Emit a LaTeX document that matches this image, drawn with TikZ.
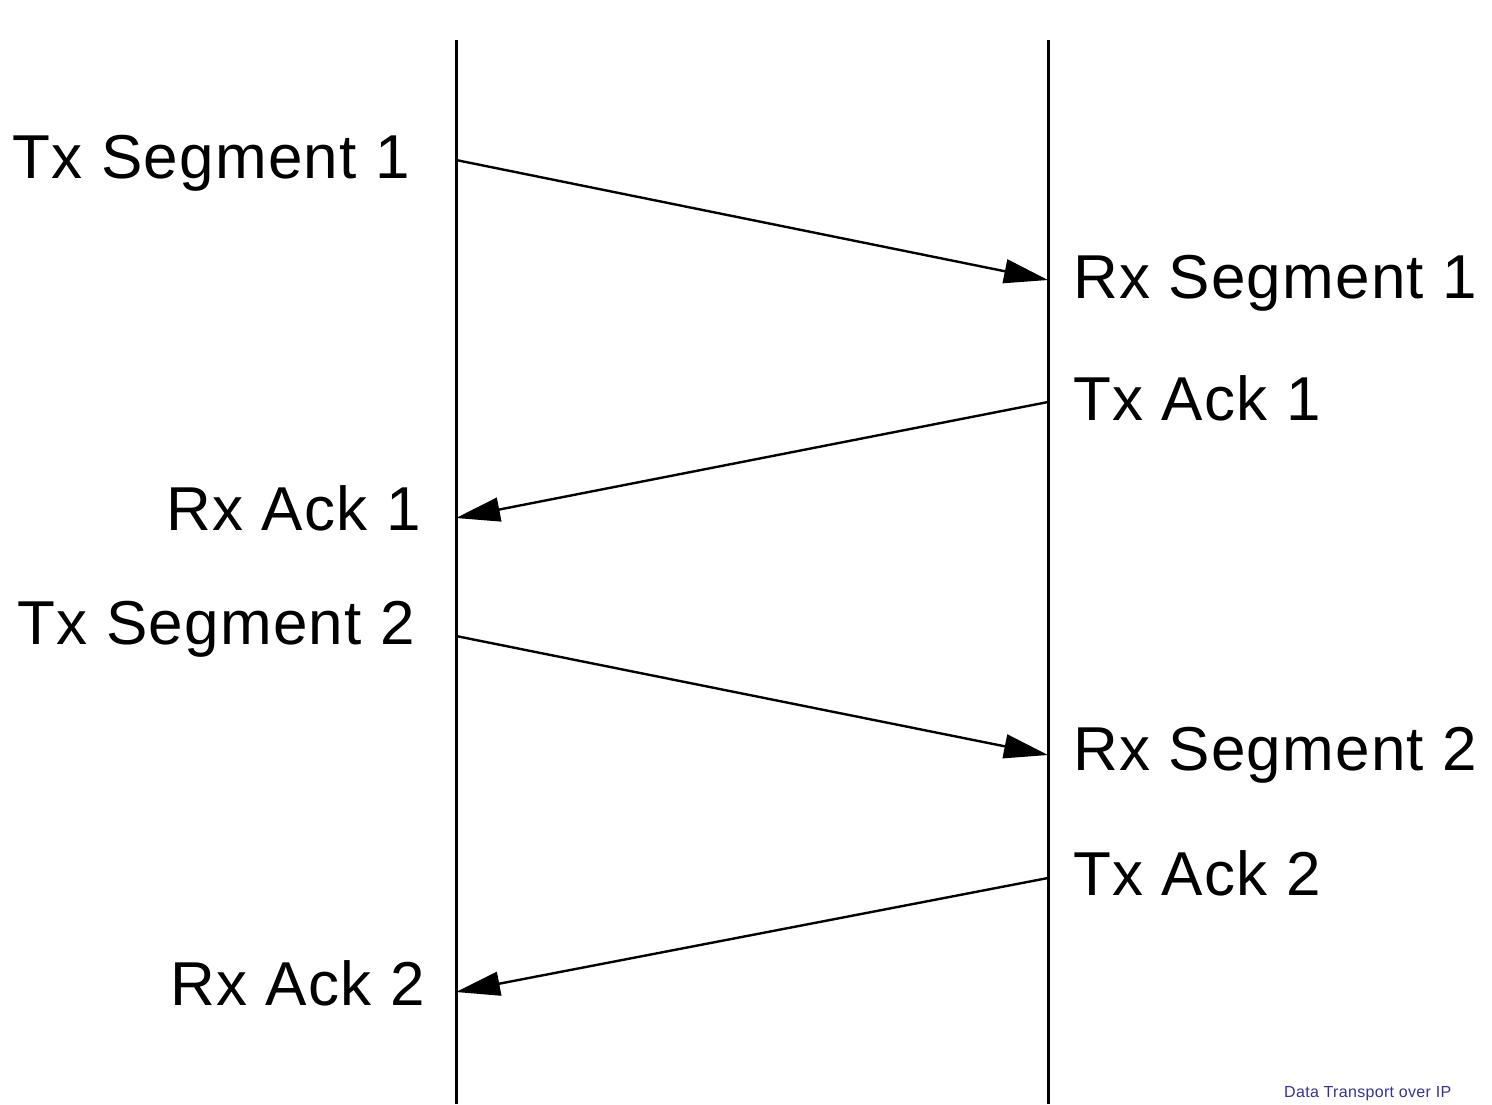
\documentclass[tikz,border=0pt]{standalone}
\usepackage{fontspec}
\setmainfont{Liberation Sans}[LetterSpace=2]
\usepackage{xcolor}
\usepackage{tikz}
\usetikzlibrary{arrows.meta}

\begin{document}
\begin{tikzpicture}[x=1pt,y=-1pt,
    lifeline/.style={line width=3pt},
    msg/.style={line width=2.4pt,-{Triangle[length=44pt,width=24pt]}},
    lbl/.style={font=\fontsize{62}{62}\selectfont,inner sep=0pt}]
        \useasboundingbox (0,0) rectangle (1492,1104);
        \fill[white] (0,0) rectangle (1492,1104);
        \def\xl{456}
        \def\xr{1048}
        % the two stations
        \draw [lifeline] (\xl,40) coordinate (lt) -- (\xl,1104) coordinate (lb);
        \draw [lifeline] (\xr,40) coordinate (rt) -- (\xr,1104) coordinate (rb);
        % points on the lines
        \coordinate (txseg1) at (\xl,160);
        \coordinate (rxseg1) at (\xr,280);
        \coordinate (txack1) at (\xr,402);
        \coordinate (rxack1) at (\xl,518);
        \coordinate (txseg2) at (\xl,636);
        \coordinate (rxseg2) at (\xr,755);
        \coordinate (txack2) at (\xr,878);
        \coordinate (rxack2) at (\xl,992);
        % labels
        \node [lbl,anchor=east] (ltxseg1) at (410,163) {Tx Segment 1};
        \node [lbl,anchor=west] (lrxseg1) at (1073,283) {Rx Segment 1};
        \node [lbl,anchor=west] (ltxack1) at (1073,398) {Tx Ack 1};
        \node [lbl,anchor=east] (lrxack1) at (421,508) {Rx Ack 1};
        \node [lbl,anchor=east] (ltxseg2) at (415,629) {Tx Segment 2};
        \node [lbl,anchor=west] (lrxseg2) at (1073,755) {Rx Segment 2};
        \node [lbl,anchor=west] (ltxack2) at (1073,873) {Tx Ack 2};
        \node [lbl,anchor=east] (lrxack2) at (425,983) {Rx Ack 2};
        % messages
        \draw [msg] (txseg1) -- (rxseg1);
        \draw [msg] (txack1) -- (rxack1);
        \draw [msg] (txseg2) -- (rxseg2);
        \draw [msg] (txack2) -- (rxack2);
        % caption
        \node [anchor=north west,inner sep=0pt,text={rgb,255:red,51;green,51;blue,153},
          font=\fontsize{16}{16}\selectfont] (cap) at (1284,1086) {Data Transport over IP};
\end{tikzpicture}
\end{document}
